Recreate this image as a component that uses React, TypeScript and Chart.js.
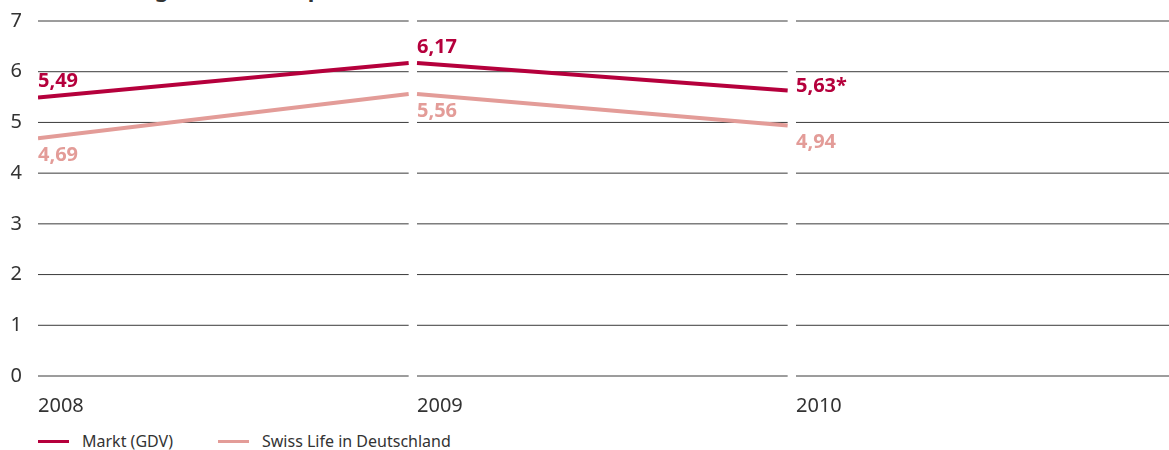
import React, { useEffect, useRef } from 'react';
import { Chart, registerables } from 'chart.js';

Chart.register(...registerables);

// ---- data ----
const years = ['2008', '2009', '2010'];
const marktValues = [5.49, 6.17, 5.63];
const swissValues = [4.69, 5.56, 4.94];
const marktNotes = ['', '', '*'];
const swissNotes = ['', '', ''];
const marktLabelPlace = ['above', 'above', 'level'];
const swissLabelPlace = ['below', 'below', 'below'];
const yTicks = [0, 1, 2, 3, 4, 5, 6, 7];
const seriesNames = ['Markt (GDV)', 'Swiss Life in Deutschland'];
const titleText = 'Entwicklung der Nettokapitalrendite';

// ---- style ----
const RED = '#B5003C';
const PINK = '#E39C98';
const TEXT = '#333333';
const GRID = '#3a3a3a';
const FONT = '"Noto Sans", "Open Sans", sans-serif';
const GAP = 0.022; // gap between year segments (in year units)

function segmentPoints(values: number[]) {
  const pts: { x: number; y: number | null }[] = [];
  for (let i = 0; i < values.length - 1; i++) {
    pts.push({ x: i, y: values[i] });
    pts.push({ x: i + 1 - GAP, y: values[i + 1] });
    if (i < values.length - 2) pts.push({ x: i + 1 - GAP / 2, y: null });
  }
  return pts;
}

const segmentGridPlugin = {
  id: 'segmentGrid',
  beforeDatasetsDraw(chart: any) {
    const { ctx, chartArea, scales } = chart;
    const xs = scales.x;
    const ys = scales.y;
    ctx.save();
    ctx.strokeStyle = GRID;
    ctx.lineWidth = 1;
    yTicks.forEach((t) => {
      const y = ys.getPixelForValue(t);
      years.forEach((_, i) => {
        const x0 = xs.getPixelForValue(i);
        const x1 = i < years.length - 1 ? xs.getPixelForValue(i + 1 - GAP) : chartArea.right;
        ctx.beginPath();
        ctx.moveTo(x0, y);
        ctx.lineTo(x1, y);
        ctx.stroke();
      });
    });
    ctx.restore();
  },
};

const valueLabelPlugin = {
  id: 'valueLabels',
  afterDatasetsDraw(chart: any) {
    const { ctx, scales } = chart;
    const xs = scales.x;
    const ys = scales.y;
    ctx.save();
    ctx.font = `bold 20px ${FONT}`;
    ctx.textAlign = 'left';
    ctx.textBaseline = 'middle';
    chart.data.datasets.forEach((ds: any) => {
      const vals: number[] = ds.rawValues;
      ctx.fillStyle = ds.borderColor;
      vals.forEach((v, i) => {
        const x = xs.getPixelForValue(i);
        const yp = ys.getPixelForValue(v);
        const place = ds.labelPlace[i];
        const dy = place === 'above' ? -16 : place === 'below' ? 17 : -4;
        const txt = v.toFixed(2).replace('.', ',') + ds.notes[i];
        ctx.fillText(txt, x, yp + dy);
      });
    });
    ctx.restore();
  },
};

export default function App() {
  const ref = useRef<HTMLCanvasElement | null>(null);

  useEffect(() => {
    document.body.style.margin = '0';
    if (!ref.current) return;
    const chart = new Chart(ref.current, {
      type: 'line',
      data: {
        datasets: [
          {
            label: seriesNames[0],
            data: segmentPoints(marktValues) as any,
            borderColor: RED,
            backgroundColor: RED,
            borderWidth: 4,
            pointRadius: 0,
            tension: 0,
            spanGaps: false,
            borderCapStyle: 'butt',
            rawValues: marktValues,
            notes: marktNotes,
            labelPlace: marktLabelPlace,
          } as any,
          {
            label: seriesNames[1],
            data: segmentPoints(swissValues) as any,
            borderColor: PINK,
            backgroundColor: PINK,
            borderWidth: 4,
            pointRadius: 0,
            tension: 0,
            spanGaps: false,
            borderCapStyle: 'butt',
            rawValues: swissValues,
            notes: swissNotes,
            labelPlace: swissLabelPlace,
          } as any,
        ],
      },
      options: {
        responsive: false,
        animation: false,
        layout: { padding: { top: 21, right: 0, bottom: 0, left: 0 } },
        plugins: {
          legend: { display: false },
          tooltip: { enabled: false },
          title: { display: false },
        },
        scales: {
          x: {
            type: 'linear',
            min: 0,
            max: years.length,
            grid: { display: false, drawTicks: false },
            border: { display: false },
            afterFit: (s: any) => {
              s.height = 49;
              s.paddingLeft = 0;
              s.paddingRight = 0;
            },
            ticks: {
              stepSize: 1,
              autoSkip: false,
              maxRotation: 0,
              align: 'start',
              padding: 18,
              color: TEXT,
              font: { family: FONT, size: 20 },
              callback: (v: any) => (years[v] !== undefined ? years[v] : ''),
            },
          },
          y: {
            min: yTicks[0],
            max: yTicks[yTicks.length - 1],
            grid: { display: false, drawTicks: false },
            border: { display: false },
            afterFit: (s: any) => {
              s.width = 38;
              s.paddingTop = 0;
              s.paddingBottom = 0;
            },
            ticks: {
              stepSize: 1,
              padding: 16,
              color: TEXT,
              font: { family: FONT, size: 20 },
            },
          },
        },
      } as any,
      plugins: [segmentGridPlugin, valueLabelPlugin],
    });
    return () => chart.destroy();
  }, []);

  const legendItems = [
    { name: seriesNames[0], color: RED, left: 38 },
    { name: seriesNames[1], color: PINK, left: 218 },
  ];

  return (
    <div style={{ position: 'relative', width: 1169, height: 450, overflow: 'hidden', background: '#fff', fontFamily: FONT }}>
      <div
        style={{
          position: 'absolute',
          left: 33,
          top: -23,
          fontSize: 22,
          lineHeight: '22px',
          fontWeight: 700,
          color: TEXT,
          whiteSpace: 'nowrap',
        }}
      >
        {titleText}
      </div>
      <canvas ref={ref} width={1175} height={425} style={{ position: 'absolute', left: 0, top: 0 }} />
      {legendItems.map((it) => (
        <div
          key={it.name}
          style={{ position: 'absolute', left: it.left, top: 430, height: 22, display: 'flex', alignItems: 'center', whiteSpace: 'nowrap' }}
        >
          <span style={{ display: 'inline-block', width: 31, height: 3, background: it.color, marginRight: 13 }} />
          <span style={{ fontSize: 16, color: TEXT }}>{it.name}</span>
        </div>
      ))}
    </div>
  );
}
